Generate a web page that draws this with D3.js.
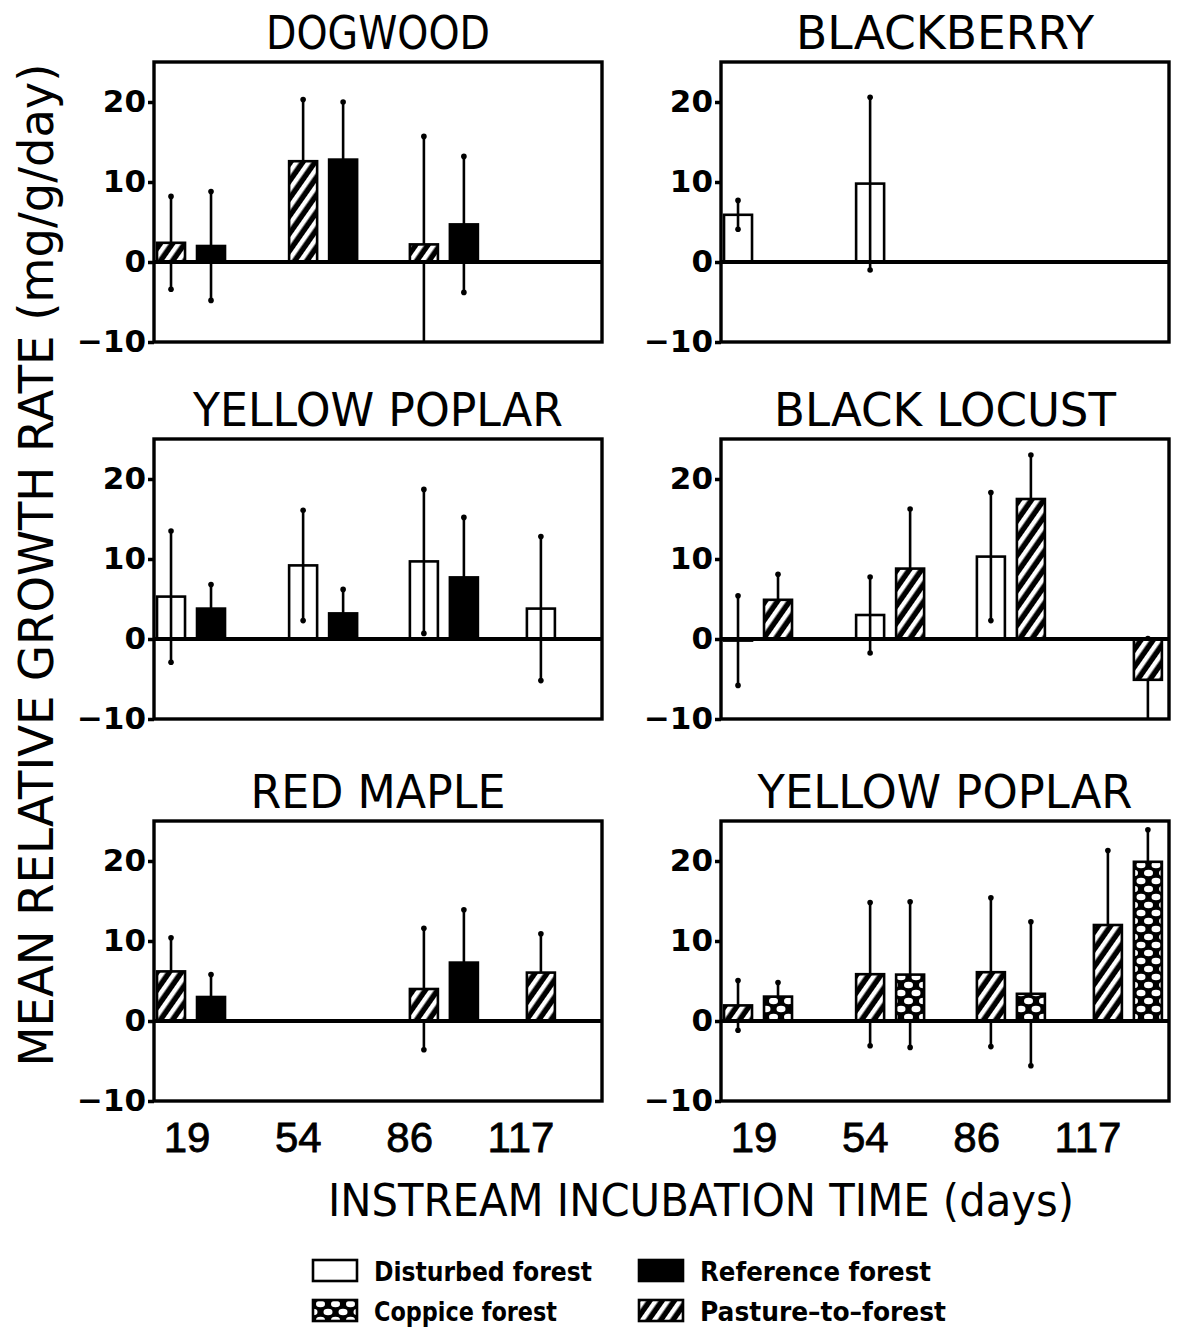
<!DOCTYPE html>
<html><head><meta charset="utf-8">
<script src="https://cdn.jsdelivr.net/npm/d3@7"></script>
<style>body{margin:0;background:#fff}</style>
</head><body>
<svg id="chart" width="1178" height="1328"></svg>
<script>
// ---------- DATA ----------
const days = [19, 54, 86, 117];
const dayLabels = ["19", "54", "86", "117"];
const yTicks = [-10, 0, 10, 20];
const seriesNames = ["Disturbed forest", "Reference forest", "Coppice forest", "Pasture-to-forest"];
const panelTitles = ["DOGWOOD", "BLACKBERRY", "YELLOW POPLAR", "BLACK LOCUST", "RED MAPLE", "YELLOW POPLAR"];

// Dogwood
const dogwoodPastureMean   = [2.4, 12.6, 2.2, null];
const dogwoodPastureSD     = [5.8, 7.7, 13.5, null];
const dogwoodReferenceMean = [2.0, 12.8, 4.7, null];
const dogwoodReferenceSD   = [6.8, 7.2, 8.5, null];
// Blackberry
const blackberryDisturbedMean = [5.9, 9.8, null, null];
const blackberryDisturbedSD   = [1.8, 10.8, null, null];
// Yellow poplar (left)
const ypDisturbedMean = [5.3, 9.2, 9.7, 3.8];
const ypDisturbedSD   = [8.2, 6.9, 9.0, 9.0];
const ypReferenceMean = [3.8, 3.2, 7.7, null];
const ypReferenceSD   = [3.0, 3.0, 7.5, null];
// Black locust
const blDisturbedMean = [-0.2, 3.0, 10.3, null];
const blDisturbedSD   = [5.6, 4.75, 8.0, null];
const blPastureMean   = [4.9, 8.8, 17.5, -5.1];
const blPastureSD     = [3.2, 7.45, 5.5, 5.15];
// Red maple
const rmPastureMean   = [6.2, null, 4.0, 6.05];
const rmPastureSD     = [4.2, null, 7.6, 4.85];
const rmReferenceMean = [3.0, null, 7.3, null];
const rmReferenceSD   = [2.8, null, 6.6, null];
// Yellow poplar (right)
const yp2PastureMean  = [1.95, 5.85, 6.1, 12.0];
const yp2PastureSD    = [3.1, 8.95, 9.3, 9.3];
const yp2CoppiceMean  = [3.05, 5.8, 3.4, 19.9];
const yp2CoppiceSD    = [1.75, 9.1, 9.0, 4.0];

// ---------- LAYOUT ----------
const W = 448, H = 280;
const colLeft = [154, 721];
const rowTop = [62, 439, 821];
const titleLengths = [224, 298, 370, 342, 255, 375];

const panels = [
  {col:0,row:0,series:[{name:seriesNames[3],mean:dogwoodPastureMean,sd:dogwoodPastureSD},{name:seriesNames[1],mean:dogwoodReferenceMean,sd:dogwoodReferenceSD}]},
  {col:1,row:0,series:[{name:seriesNames[0],mean:blackberryDisturbedMean,sd:blackberryDisturbedSD}]},
  {col:0,row:1,series:[{name:seriesNames[0],mean:ypDisturbedMean,sd:ypDisturbedSD},{name:seriesNames[1],mean:ypReferenceMean,sd:ypReferenceSD}]},
  {col:1,row:1,series:[{name:seriesNames[0],mean:blDisturbedMean,sd:blDisturbedSD},{name:seriesNames[3],mean:blPastureMean,sd:blPastureSD}]},
  {col:0,row:2,series:[{name:seriesNames[3],mean:rmPastureMean,sd:rmPastureSD},{name:seriesNames[1],mean:rmReferenceMean,sd:rmReferenceSD}]},
  {col:1,row:2,series:[{name:seriesNames[3],mean:yp2PastureMean,sd:yp2PastureSD},{name:seriesNames[2],mean:yp2CoppiceMean,sd:yp2CoppiceSD}]}
];

const svg = d3.select("#chart");
svg.append("rect").attr("width",1178).attr("height",1328).attr("fill","#fff");
const defs = svg.append("defs");

// hatch pattern (pasture)
const hatch = defs.append("pattern").attr("id","hatch").attr("patternUnits","userSpaceOnUse")
  .attr("width",10).attr("height",10).attr("patternTransform","rotate(35)");
hatch.append("rect").attr("width",10).attr("height",10).attr("fill","#000");
hatch.append("rect").attr("x",2).attr("width",4.5).attr("height",10).attr("fill","#fff");
// dots pattern (coppice)
const dots = defs.append("pattern").attr("id","dots").attr("patternUnits","userSpaceOnUse")
  .attr("width",15).attr("height",16);
dots.append("rect").attr("width",15).attr("height",16).attr("fill","#000");
[[7.5,4],[0,12],[15,12]].forEach(([cx,cy]) => dots.append("ellipse").attr("cx",cx).attr("cy",cy).attr("rx",4.5).attr("ry",3.2).attr("fill","#fff"));

const fillFor = {};
fillFor[seriesNames[0]] = "none";
fillFor[seriesNames[1]] = "#000";
fillFor[seriesNames[2]] = "url(#dots)";
fillFor[seriesNames[3]] = "url(#hatch)";
const legendFill = Object.assign({}, fillFor, {[seriesNames[0]]: "#fff"});

const x = d3.scaleLinear().domain([18.2, 136.9]).range([0, W]);
const slot = d3.scaleBand().domain([0,1]).range([0,68]).paddingInner(0.3);
const y = d3.scaleLinear().domain([-10, 25]).range([H, 0]);
const xLab = d3.scalePoint().domain(dayLabels).range([33, 367]);

panels.forEach((p, i) => {
  const g = svg.append("g").attr("transform", `translate(${colLeft[p.col]},${rowTop[p.row]})`);
  const clipId = "clip" + i;
  defs.append("clipPath").attr("id", clipId).append("rect").attr("width", W).attr("height", H);
  const plot = g.append("g").attr("clip-path", `url(#${clipId})`);

  const bars = [];
  p.series.forEach((s, k) => days.forEach((d, j) => {
    if (s.mean[j] != null) bars.push({day:d, slot:k, v:s.mean[j], sd:s.sd[j], name:s.name});
  }));
  const cx = d => x(d.day) + slot(d.slot) + slot.bandwidth()/2;

  // error bars
  const eb = plot.selectAll("g.eb").data(bars).join("g").attr("class","eb");
  eb.append("line")
    .attr("x1", cx).attr("x2", cx)
    .attr("y1", d => y(d.v - d.sd)).attr("y2", d => y(d.v + d.sd))
    .attr("stroke","#000").attr("stroke-width",2.6);
  eb.selectAll("circle").data(d => [d.v - d.sd, d.v + d.sd].map(v => ({x:cx(d), y:y(v)})))
    .join("circle").attr("cx", d => d.x).attr("cy", d => d.y).attr("r", 2.8).attr("fill","#000");

  // bars
  plot.selectAll("rect.bar").data(bars).join("rect").attr("class","bar")
    .attr("x", d => x(d.day) + slot(d.slot))
    .attr("width", slot.bandwidth())
    .attr("y", d => y(Math.max(0, d.v)))
    .attr("height", d => Math.abs(y(d.v) - y(0)))
    .attr("fill", d => fillFor[d.name])
    .attr("stroke","#000").attr("stroke-width",2.6);

  // zero line
  g.append("line").attr("x1",0).attr("x2",W).attr("y1",y(0)).attr("y2",y(0))
    .attr("stroke","#000").attr("stroke-width",4);
  // frame
  g.append("rect").attr("width",W).attr("height",H).attr("fill","none")
    .attr("stroke","#000").attr("stroke-width",3.4);

  // y axis
  const ax = g.append("g").call(d3.axisLeft(y).tickValues(yTicks).tickSize(6).tickPadding(2));
  ax.select(".domain").remove();
  ax.selectAll(".tick line").attr("stroke","#000").attr("stroke-width",3.5);
  ax.selectAll(".tick text").attr("fill","#000")
    .style("font-family","'DejaVu Sans'").style("font-weight","bold").style("font-size","31px");

  // title
  g.append("text").attr("x", W/2).attr("y", -13).attr("text-anchor","middle")
    .attr("textLength", titleLengths[i]).attr("lengthAdjust","spacingAndGlyphs")
    .style("font-family","'DejaVu Sans'").style("font-size","46px").attr("fill","#000")
    .text(panelTitles[i]);

  // x labels on bottom row
  if (p.row === 2) {
    g.selectAll("text.xl").data(dayLabels).join("text").attr("class","xl")
      .attr("x", d => xLab(d)).attr("y", H + 51).attr("text-anchor","middle")
      .style("font-family","'Liberation Sans'").style("font-size","42px")
      .attr("stroke","#000").attr("stroke-width",0.8)
      .attr("fill","#000").text(d => d);
  }
});

// axis titles
svg.append("text").attr("x", 701).attr("y", 1216).attr("text-anchor","middle")
  .attr("textLength", 746).attr("lengthAdjust","spacingAndGlyphs")
  .style("font-family","'DejaVu Sans'").style("font-size","44px").attr("fill","#000")
  .text("INSTREAM INCUBATION TIME (days)");
svg.append("text").attr("transform","translate(53,565) rotate(-90)").attr("text-anchor","middle")
  .attr("textLength", 1003).attr("lengthAdjust","spacingAndGlyphs")
  .style("font-family","'DejaVu Sans'").style("font-size","48px").attr("fill","#000")
  .text("MEAN RELATIVE GROWTH RATE (mg/g/day)");

// legend
const legendOrder = [seriesNames[0], seriesNames[1], seriesNames[2], seriesNames[3]];
const legendLabels = {"Disturbed forest":"Disturbed forest","Reference forest":"Reference forest","Coppice forest":"Coppice forest","Pasture-to-forest":"Pasture\u2013to\u2013forest"};
const legendTextLen = [218, 231, 183, 246];
const legCol = [313, 639], legRow = [1260, 1300];
const leg = svg.selectAll("g.leg").data(legendOrder).join("g").attr("class","leg")
  .attr("transform", (d,i) => `translate(${legCol[i%2]},${legRow[Math.floor(i/2)]})`);
leg.append("rect").attr("width",44).attr("height",21)
  .attr("fill", d => legendFill[d]).attr("stroke","#000").attr("stroke-width",2.6);
leg.append("text").attr("x",61).attr("y",21)
  .attr("textLength",(d,i) => legendTextLen[i]).attr("lengthAdjust","spacingAndGlyphs")
  .style("font-family","'DejaVu Sans'").style("font-weight","bold").style("font-size","26px")
  .attr("fill","#000").text(d => legendLabels[d]);
</script>
</body></html>
